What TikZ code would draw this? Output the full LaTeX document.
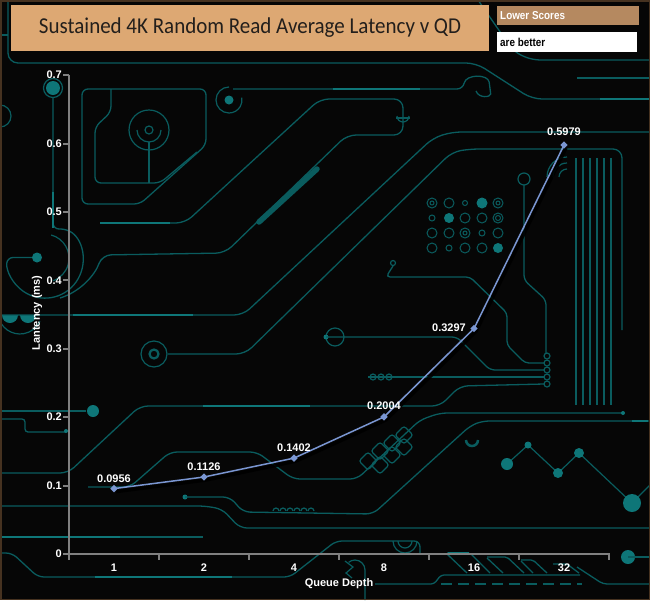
\documentclass[tikz,border=0pt]{standalone}
\usepackage{fontspec}
\usepackage{graphicx}
\setmainfont{Liberation Sans}
\newfontfamily\titlefont{Carlito}
\usetikzlibrary{shapes.geometric}
\definecolor{bg}{RGB}{6,6,6}
\definecolor{trace}{RGB}{10,92,94}
\definecolor{traceb}{RGB}{14,118,120}
\definecolor{titlefill}{RGB}{221,168,115}
\definecolor{notefill}{RGB}{181,137,96}
\definecolor{titletext}{RGB}{35,31,28}
\definecolor{axisgray}{RGB}{128,128,128}
\definecolor{series}{RGB}{122,150,210}
\definecolor{framecol}{RGB}{70,50,32}
\begin{document}
\begin{tikzpicture}[x=1pt,y=-1pt,
  tr/.style={draw=trace, line width=1.3pt, rounded corners=6pt},
  trc/.style={draw=trace, line width=1.2pt},
  trb/.style={draw=traceb, line width=1.6pt},
  dm/.style={draw=trace, line width=1pt},
  axisline/.style={draw=axisgray, line width=2pt},
  ticklab/.style={text=white, inner sep=1pt, font=\bfseries\fontsize{11}{12}\selectfont},
  datalab/.style={text=white, inner sep=1pt, font=\bfseries\fontsize{11}{12}\selectfont},
  notelab/.style={anchor=west, inner sep=0pt, font=\bfseries\fontsize{11.5}{13}\selectfont},
  mk/.style={diamond, fill=series, inner sep=0pt, minimum size=7.5pt},
  seriesline/.style={draw=series, line width=1.5pt},
  shadowline/.style={draw=black, line width=3.5pt, opacity=0.9},
]
\fill[bg] (0,0) rectangle (650,600);
\useasboundingbox (0,0) rectangle (650,600);

% ---------- circuit background ----------
% top lines
\draw[tr, rounded corners=10pt] (8,0) -- (8,63) -- (476,63) -- (532,99) -- (650,99);
\draw[tr] (0,35) -- (8,35);
\draw[tr, rounded corners=8pt] (478,0) -- (514,52) -- (532,60) -- (650,60);
\draw[tr] (577,78) -- (650,78);
% line with spiral end
\draw[tr] (233,89) -- (463,89) .. controls (466,74) and (488,74) .. (490,88) .. controls (491,97) and (479,99) .. (476,91);
\fill[traceb] (229,100) circle[radius=4.5pt];
\draw[trc] (229,87) arc[start angle=90,end angle=370,radius=13pt];
% upper-left box
\draw[tr] (82,89) -- (206,89) -- (206,145) -- (140,204) -- (82,204) -- cycle;
\draw[tr] (111,89) -- (111,112) -- (95,127) -- (95,183) -- (160,183) -- (197,152);
\draw[trc] (149,130) circle[radius=20pt];
\draw[trc] (149,130) circle[radius=4pt];
\draw[trc] (137,130) arc[start angle=180,end angle=360,radius=12pt];
\draw[trc] (149,142) -- (149,183);
% loop
\draw[tr, rounded corners=9pt] (100,223) -- (185,223) -- (320,99) -- (403,99) -- (403,135) -- (347,135) -- (225,253) -- (102,255) .. controls (95,275) and (80,292) .. (60,298);
\draw[trc] (397,116) arc[start angle=180,end angle=360,radius=6pt];
\draw[trc] (396,118) -- (410,118);
\draw[trace, line width=5.5pt, line cap=round] (259,222) -- (317,169);
% left column
\fill[traceb] (53,88) circle[radius=7pt];
\draw[trc] (53,88) circle[radius=9.5pt];
\draw[tr] (53,97) -- (53,229) -- (66.8,229) arc[start angle=55,end angle=-184,radius=38pt] -- (37,257.5);
\fill[traceb] (37,257.5) circle[radius=5pt];
\draw[trc] (51.2,235) arc[start angle=75,end angle=-70,radius=24pt];
\draw[trc] (0,105) arc[start angle=90,end angle=-90,radius=11pt];
\fill[traceb] (2,315) arc[start angle=180,end angle=360,radius=8pt] -- cycle;
\fill[traceb] (20,315) arc[start angle=180,end angle=360,radius=8pt] -- cycle;
\draw[trc] (-1.7,315.8) arc[start angle=190,end angle=335,radius=22pt];
% long diagonals
\draw[tr, rounded corners=9pt] (650,132) -- (452,132) -- (433,138) -- (243,315) -- (0,315);
\draw[tr, rounded corners=9pt] (622,330) -- (622,149) -- (470,149) -- (452,152) -- (245,354) -- (168,354);
\draw[trc] (154,354) circle[radius=13pt];
\draw[trace, line width=2.2pt] (154,354) circle[radius=4.5pt];
% middle right
\draw[trc] (335,337) circle[radius=9pt];
\fill[traceb] (326,337) circle[radius=2.5pt];
\draw[tr, rounded corners=5pt] (326,337) -- (457,337) -- (490,370) -- (544,370);
\draw[trc] (393,263) circle[radius=2.5pt];
\draw[tr, rounded corners=4pt] (393,266) -- (386,277) -- (470,277) -- (507,313) -- (507,345) -- (525,363) -- (544,363);
\draw[tr] (368,377) -- (544,377);
\foreach \x in {373,381,389} \draw[trc] (\x,377) circle[radius=3pt];
\draw[tr, rounded corners=8pt] (0,473) -- (68,473) -- (140,406) -- (440,406) -- (460,386) -- (544,384);
\foreach \y in {356,363,370,377,384} \draw[trc] (547,\y) circle[radius=3pt];
\draw[trc] (524,179) circle[radius=6pt];
\draw[tr, rounded corners=5pt] (524,185) -- (524,280) -- (546,300) -- (546,353);
\foreach \r in {8,14,20} \draw[trc] (567,177-\r) arc[start angle=90,end angle=180,radius=\r pt];
\foreach \x in {576,583,590,597,604,611} \draw[tr] (\x,158) -- (\x,405);
% dot matrix
\draw[dm] (432,203) circle[radius=5pt]; \draw[dm] (432,203) circle[radius=2pt];
\draw[dm] (449,203) circle[radius=5pt]; \draw[dm] (465,203) circle[radius=2.5pt];
\fill[traceb] (482,203) circle[radius=5.5pt];
\draw[dm] (498,203) circle[radius=5pt]; \draw[dm] (498,203) circle[radius=2pt];
\draw[dm] (432,218) circle[radius=3pt]; \fill[traceb] (449,218) circle[radius=5pt];
\draw[dm] (465,218) circle[radius=5pt]; \draw[dm] (482,218) circle[radius=5pt];
\draw[dm] (498,218) circle[radius=5pt]; \draw[dm] (498,218) circle[radius=2.5pt];
\draw[dm] (432,233) circle[radius=5pt]; \draw[dm] (449,233) circle[radius=5pt];
\draw[dm] (465,233) circle[radius=5pt]; \draw[dm] (465,233) circle[radius=2pt];
\draw[dm] (482,233) circle[radius=3pt]; \draw[dm] (498,233) circle[radius=5pt];
\draw[dm] (432,248) circle[radius=5pt]; \draw[dm] (449,248) circle[radius=3pt];
\draw[dm] (465,248) circle[radius=5pt]; \draw[dm] (482,248) circle[radius=5pt];
\fill[traceb] (498,248) circle[radius=5pt];
% lower left
\draw[tr] (0,411) -- (86,411);
\fill[traceb] (93,411) circle[radius=6pt];
\draw[tr, rounded corners=3pt] (0,419) -- (25,419) -- (25,432) -- (66,432);
\fill[traceb] (66,431) circle[radius=2pt];
\fill[traceb] (185,497) circle[radius=2.5pt];
\draw[tr, rounded corners=7pt] (185,497) -- (230,497) -- (243,512) -- (373,514) -- (470,426) -- (482,421) -- (650,421);
\draw[tr, rounded corners=7pt] (88,487) -- (130,487) -- (170,452) -- (257,452) -- (293,479) -- (357,479) -- (420,420) -- (440,413) -- (623,413);
\fill[traceb] (623,413) circle[radius=2pt];
\foreach \x/\y in {368/461,380/451,392/443,380/465,392/455,404/447,404/435}
  \draw[trc, rounded corners=2.5pt] (\x,\y-9) -- (\x+9,\y) -- (\x,\y+9) -- (\x-9,\y) -- cycle;
\foreach \x in {276,283,290,297,304,311} \draw[trc] (\x-3,511) arc[start angle=180,end angle=0,radius=3pt];
\draw[tr, rounded corners=7pt] (0,506) -- (205,506) -- (222,509) -- (240,528) -- (650,528);
\draw[tr] (0,537) -- (203,537);
\draw[tr, rounded corners=6pt] (0,553) -- (12,553) -- (38,577) -- (290,577) -- (336,541) -- (420,541) -- (420,553);
\draw[trc] (393,541) arc[start angle=180,end angle=360,radius=12pt];
\draw[trc] (398,541) arc[start angle=180,end angle=360,radius=7pt];
\draw[trc] (365,600) -- (365,570) arc[start angle=0,end angle=130,radius=10pt];
\draw[trc] (345,561) -- (353,567) -- (346,573) -- (352,578);
% bottom right
\draw[tr, rounded corners=3pt] (375,584) -- (434,584) -- (441,575) -- (580,575);
\draw[trace, line width=1.4pt, dash pattern=on 11pt off 6pt] (441,584) -- (582,584);
\draw[tr, rounded corners=2pt] (447,553) -- (470,553) -- (490,573);
\draw[tr] (447,554) -- (467,573);
\draw[tr, rounded corners=2pt] (487,557) -- (507,557) -- (524,573);
\draw[tr] (487,558) -- (503,573);
\draw[tr, rounded corners=2pt] (521,560) -- (533,560) -- (547,573);
\draw[tr] (521,561) -- (533,573);
\draw[tr, rounded corners=2pt] (553,564) -- (567,564) -- (579,573);
\draw[tr, rounded corners=4pt] (577,567) -- (603,584) -- (650,584);
\fill[traceb] (628,557) circle[radius=7pt];
\draw[tr] (628,557) -- (650,557);
% zigzag
\draw[trc] (507,464) -- (528,445) -- (558,473) -- (579,453) -- (632,503) -- (650,485);
\fill[traceb] (507,464) circle[radius=6pt];
\fill[traceb] (528,445) circle[radius=3.5pt];
\fill[traceb] (558,473) circle[radius=5pt];
\fill[traceb] (579,453) circle[radius=5pt];
\fill[traceb] (632,503) circle[radius=9pt];
\draw[trace, line width=2.5pt] (466,440) arc[start angle=180,end angle=360,radius=6pt];
% brighter segments
\draw[trb] (53,192) -- (53,228);
\draw[trb] (100,223) -- (170,223);
\draw[trb] (333,89) -- (420,89);
\draw[trb] (600,99) -- (650,99);
\draw[trb] (73,315) -- (193,315);
\draw[trb] (203,406) -- (310,406);
\draw[trb] (95,577) -- (232,577);
\draw[trb] (0,537) -- (120,537);
\draw[trb] (632,421) -- (648,421);
\draw[trb] (448,553) -- (469,553);

% ---------- axes ----------
\draw[axisline] (69,75) -- (69,560);
\draw[axisline] (68,554) -- (610,554);
\foreach \k in {1,...,6} \draw[axisline] (69+90*\k,554) -- (69+90*\k,560);
\foreach \k/\t in {0/0,1/0.1,2/0.2,3/0.3,4/0.4,5/0.5,6/0.6,7/0.7} {
  \draw[axisline] (63,554-68.4*\k) -- (69,554-68.4*\k);
  \node[ticklab, anchor=east] (y\k) at (63,554-68.4*\k) {\t};
}
\foreach \k/\t in {1/1,2/2,3/4,4/8,5/16,6/32}
  \node[ticklab] (x\k) at (24+90*\k,568) {\t};
\node[ticklab] (xtitle) at (339,584) {Queue Depth};
\node[ticklab, rotate=90] (ytitle) at (37,313) {Lantency (ms)};

% ---------- series ----------
\coordinate (p1) at (114,488.6);
\coordinate (p2) at (204,477.0);
\coordinate (p3) at (294,458.1);
\coordinate (p4) at (384,416.9);
\coordinate (p5) at (474,328.5);
\coordinate (p6) at (564,145.0);
\draw[shadowline] ([shift={(2,3)}]p1) -- ([shift={(2,3)}]p2) -- ([shift={(2,3)}]p3) -- ([shift={(2,3)}]p4) -- ([shift={(2,3)}]p5) -- ([shift={(2,3)}]p6);
\draw[seriesline] (p1) -- (p2) -- (p3) -- (p4) -- (p5) -- (p6);
\foreach \i in {1,...,6} \node[mk] (m\i) at (p\i) {};
\node[datalab] (l1) at (114,479) {0.0956};
\node[datalab] (l2) at (204,467) {0.1126};
\node[datalab] (l3) at (294,448) {0.1402};
\node[datalab] (l4) at (384,406) {0.2004};
\node[datalab] (l5) at (449,328) {0.3297};
\node[datalab] (l6) at (564,132) {0.5979};

% ---------- title and note ----------
\node[fill=titlefill, minimum width=478pt, minimum height=46pt, inner sep=0pt,
      text=titletext, font=\titlefont\fontsize{21}{25}\selectfont] (title) at (250,28)
      {\scalebox{1}[1.08]{Sustained 4K Random Read Average Latency v QD}};
\node[fill=notefill, anchor=north west, minimum width=142pt, minimum height=19pt, inner sep=0pt] (lsbox) at (497,6) {};
\node[notelab, text=white] (lstext) at (500,16) {\scalebox{0.86}[1]{Lower Scores}};
\node[fill=white, anchor=north west, minimum width=140pt, minimum height=20pt, inner sep=0pt] (abbox) at (497,32) {};
\node[notelab, text=black] (abtext) at (500,42.5) {\scalebox{0.86}[1]{are better}};

\draw[framecol, line width=1.5pt] (0.75,0.75) rectangle (649.25,599.25);
\end{tikzpicture}
\end{document}
